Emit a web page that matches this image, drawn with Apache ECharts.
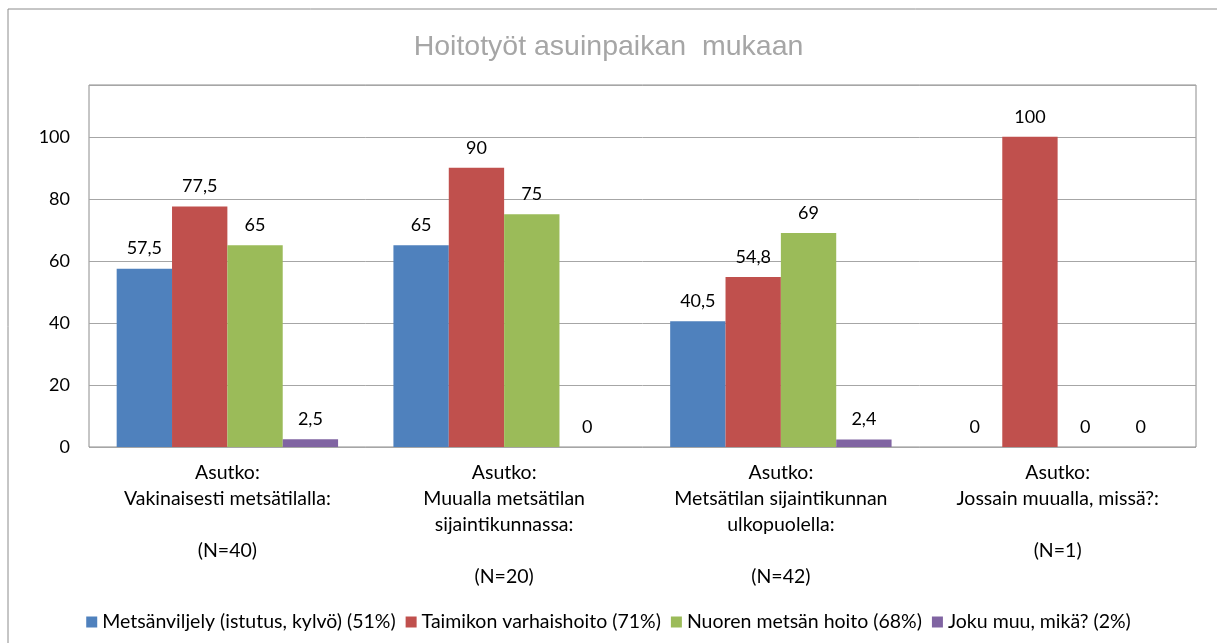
<!DOCTYPE html>
<html>
<head>
<meta charset="utf-8">
<script src="https://cdn.jsdelivr.net/npm/echarts@6/dist/echarts.min.js"></script>
<style>
html,body{margin:0;padding:0;background:#fff;}
#chart{width:1217px;height:643px;}
</style>
</head>
<body>
<div id="chart"></div>
<script>
const categories = [
  "Asutko:\nVakinaisesti metsätilalla:\n\n(N=40)",
  "Asutko:\nMuualla metsätilan\nsijaintikunnassa:\n\n(N=20)",
  "Asutko:\nMetsätilan sijaintikunnan\nulkopuolella:\n\n(N=42)",
  "Asutko:\nJossain muualla, missä?:\n\n(N=1)"
];
const seriesNames = [
  "Metsänviljely (istutus, kylvö) (51%)",
  "Taimikon varhaishoito (71%)",
  "Nuoren metsän hoito (68%)",
  "Joku muu, mikä? (2%)"
];
const metsanviljely = [57.5, 65, 40.5, 0];
const taimikon = [77.5, 90, 54.8, 100];
const nuoren = [65, 75, 69, 0];
const jokuMuu = [2.5, 0, 2.4, 0];
const yTicks = [0, 20, 40, 60, 80, 100];

const colors = ['#4F81BD', '#C0504D', '#9BBB59', '#8064A2'];
const font = 'Lato, "Open Sans", sans-serif';
const allData = [metsanviljely, taimikon, nuoren, jokuMuu];

const chart = echarts.init(document.getElementById('chart'));
chart.setOption({
  animation: false,
  backgroundColor: '#fff',
  graphic: [{
    type: 'rect',
    shape: { x: 8, y: 9, width: 1300, height: 700 },
    style: { fill: 'none', stroke: '#8c8c8c', lineWidth: 1 },
    silent: true
  }],
  title: {
    text: 'Hoitotyöt asuinpaikan  mukaan',
    left: 'center',
    top: 28,
    textStyle: { fontFamily: '"Liberation Sans", Arial, sans-serif', fontSize: 28.5, fontWeight: 'normal', color: '#a6a6a6' }
  },
  legend: {
    bottom: 6,
    left: 'center',
    icon: 'rect',
    itemWidth: 11,
    itemHeight: 11,
    itemGap: 10,
    textStyle: { fontFamily: font, fontSize: 19.5, color: '#000' },
    data: seriesNames
  },
  grid: {
    left: 89, right: 21, top: 85, bottom: 196,
    show: true, borderColor: '#8c8c8c', borderWidth: 1
  },
  xAxis: {
    type: 'category',
    data: categories,
    axisLine: { show: false },
    axisTick: { show: false },
    axisLabel: { interval: 0, fontFamily: font, fontSize: 19.5, lineHeight: 26, color: '#000', margin: 13, verticalAlign: 'top' }
  },
  yAxis: {
    type: 'value',
    min: 0,
    max: 116.7,
    interval: 20,
    axisLine: { show: false },
    axisTick: { show: false },
    splitLine: { lineStyle: { color: '#a6a6a6', width: 1 } },
    axisLabel: {
      fontFamily: font, fontSize: 18, color: '#000', margin: 19,
      formatter: v => yTicks.indexOf(v) >= 0 ? String(v) : ''
    }
  },
  series: allData.map((d, i) => ({
    type: 'bar',
    name: seriesNames[i],
    data: d,
    barGap: '0%',
    barCategoryGap: '20%',
    itemStyle: { color: colors[i] },
    label: {
      show: true,
      position: 'top',
      distance: 11,
      fontFamily: font,
      fontSize: 18,
      color: '#000',
      formatter: p => String(p.value).replace('.', ',')
    }
  }))
});
</script>
</body>
</html>
